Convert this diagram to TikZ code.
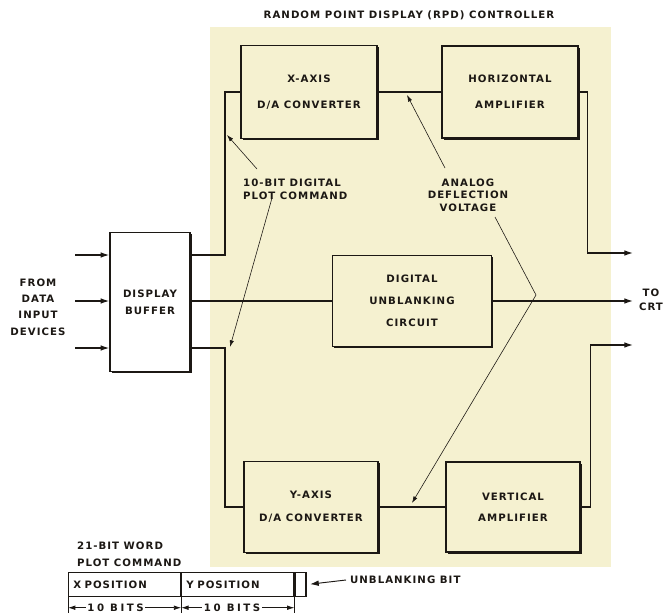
\documentclass[tikz,border=0pt]{standalone}
\usepackage{fontspec}
\setsansfont{DejaVu Sans}[LetterSpace=10.0]
\usetikzlibrary{arrows.meta,shadows}
\definecolor{paper}{RGB}{245,241,208}
\definecolor{ink}{RGB}{28,24,20}

\begin{document}
\begin{tikzpicture}[x=0.03cm,y=-0.03cm,>={Latex[length=2.6mm,width=1.7mm]},
  every node/.style={font=\sffamily\bfseries\fontsize{8.7}{10}\selectfont,text=ink},
  block/.style={draw=ink,line width=1.2pt,fill=paper,align=center,
    drop shadow={shadow xshift=1.4pt,shadow yshift=-1.4pt,fill=ink,opacity=1}},
  wire/.style={draw=ink,line width=1.1pt},
  pointer/.style={draw=ink,line width=0.5pt,-{Latex[length=2mm,width=1.3mm]}},
  small/.style={font=\sffamily\bfseries\fontsize{8.7}{10.5}\selectfont},
  cell/.style={draw=ink,line width=1pt,minimum height=0.72cm,anchor=north west,inner xsep=4pt},
  dim/.style={draw=ink,line width=0.7pt,{Latex[length=2.2mm,width=1.4mm]}-{Latex[length=2.2mm,width=1.4mm]}},
  bits/.style={fill=white,inner sep=1.5pt,font=\sffamily\bfseries\fontsize{8.7}{10}\selectfont\addfontfeatures{LetterSpace=25.0}}]
  \useasboundingbox (0,0) rectangle (665,614);
  \fill[paper] (210,27) rectangle (611,567);
  \node (title) at (409,15) {RANDOM POINT DISPLAY (RPD) CONTROLLER};

  \node[block,minimum width=4.08cm,minimum height=2.79cm] (xconv) at (309,92) {X-AXIS\\[12pt]D/A CONVERTER};
  \node[block,minimum width=4.08cm,minimum height=2.76cm] (hamp) at (510,92) {HORIZONTAL\\[12pt]AMPLIFIER};
  \node[block,fill=white,minimum width=2.4cm,minimum height=4.17cm] (buffer) at (150,302) {DISPLAY\\[4.5pt]BUFFER};
  \node[block,minimum width=4.77cm,minimum height=2.73cm] (unblank) at (412,301) {DIGITAL\\[8.7pt]UNBLANKING\\[8.7pt]CIRCUIT};
  \node[block,minimum width=4.02cm,minimum height=2.73cm] (yconv) at (311,507) {Y-AXIS\\[9.5pt]D/A CONVERTER};
  \node[block,minimum width=4.02cm,minimum height=2.7cm] (vamp) at (513,507) {VERTICAL\\[8pt]AMPLIFIER};

  \foreach \y [count=\i] in {255,301,348} {
    \coordinate (in\i) at (75,\y);
    \draw[wire,->] (in\i) -- (buffer.west |- in\i);
  }
  \node[align=center,font=\sffamily\bfseries\fontsize{8.7}{13.9}\selectfont] (from) at (38,307) {FROM\\DATA\\INPUT\\DEVICES};

  \coordinate (ltop) at (225,255);
  \coordinate (lbot) at (225,348);
  \draw[wire] (buffer.east |- ltop) -- (ltop) |- (xconv.west);
  \draw[wire] (buffer.east |- lbot) -- (lbot) |- (yconv.west);
  \draw[wire] (buffer.east |- unblank) -- (unblank);
  \draw[wire] (xconv) -- (hamp);
  \draw[wire] (yconv) -- (vamp);

  \coordinate (hout) at (633,253);
  \coordinate (crt) at (633,301);
  \coordinate (vout) at (633,345);
  \draw[wire,->] (hamp.east) -- ++(9,0) |- (hout);
  \draw[wire,->] (unblank) -- (crt);
  \draw[wire,->] (vamp.east) -- ++(10,0) |- (vout);
  \node[align=center,font=\sffamily\bfseries\fontsize{8.7}{12}\selectfont] (tocrt) at (651,300) {TO\\CRT};

  \node[small,align=left,anchor=north west] (plotcmd) at (239,175) {10-BIT DIGITAL\\PLOT COMMAND};
  \coordinate (pcup) at (257,169);
  \coordinate (pcdown) at (272,198);
  \coordinate (pc1) at (227,135);
  \coordinate (pc2) at (230,347);
  \draw[pointer] (pcup) -- (pc1);
  \draw[pointer] (pcdown) -- (pc2);

  \node[small,align=center] (deflect) at (468,195) {ANALOG\\DEFLECTION\\VOLTAGE};
  \coordinate (dvup) at (445,168);
  \coordinate (dvdown) at (495,217);
  \coordinate (dvmid) at (536,295);
  \coordinate (dv1) at (407,95);
  \coordinate (dv2) at (412,503);
  \draw[pointer] (dvup) -- (dv1);
  \draw[pointer] (dvdown) -- (dvmid) -- (dv2);

  \node[align=left,anchor=north west,font=\sffamily\bfseries\fontsize{8.7}{14.5}\selectfont] (word) at (73,538) {21-BIT WORD\\PLOT COMMAND};
  \node[cell,minimum width=3.36cm,text width=3.08cm,align=left] (xpos) at (68,572) {X POSITION};
  \node[cell,minimum width=3.36cm,text width=3.08cm,align=left] (ypos) at (xpos.north east) {Y POSITION};
  \node[cell,minimum width=0.33cm,inner xsep=0pt] (ubit) at (ypos.north east) {};
  \node[anchor=west] (ublabel) at (346,580) {UNBLANKING BIT};
  \draw[draw=ink,line width=0.8pt,->,shorten >=3pt] (ublabel.west) -- (ubit.east);

  \foreach \c in {xpos,ypos,ubit}
    \draw[draw=ink,line width=0.8pt] (\c.south west) -- ++(0,16);
  \coordinate (d0) at ([yshift=-9pt]xpos.south west);
  \coordinate (d1) at ([yshift=-9pt]ypos.south west);
  \coordinate (d2) at ([yshift=-9pt]ubit.south west);
  \draw[dim] (d0) -- node[pos=0.42,bits] {10 BITS} (d1);
  \draw[dim] (d1) -- node[pos=0.45,bits] {10 BITS} (d2);
\end{tikzpicture}
\end{document}
